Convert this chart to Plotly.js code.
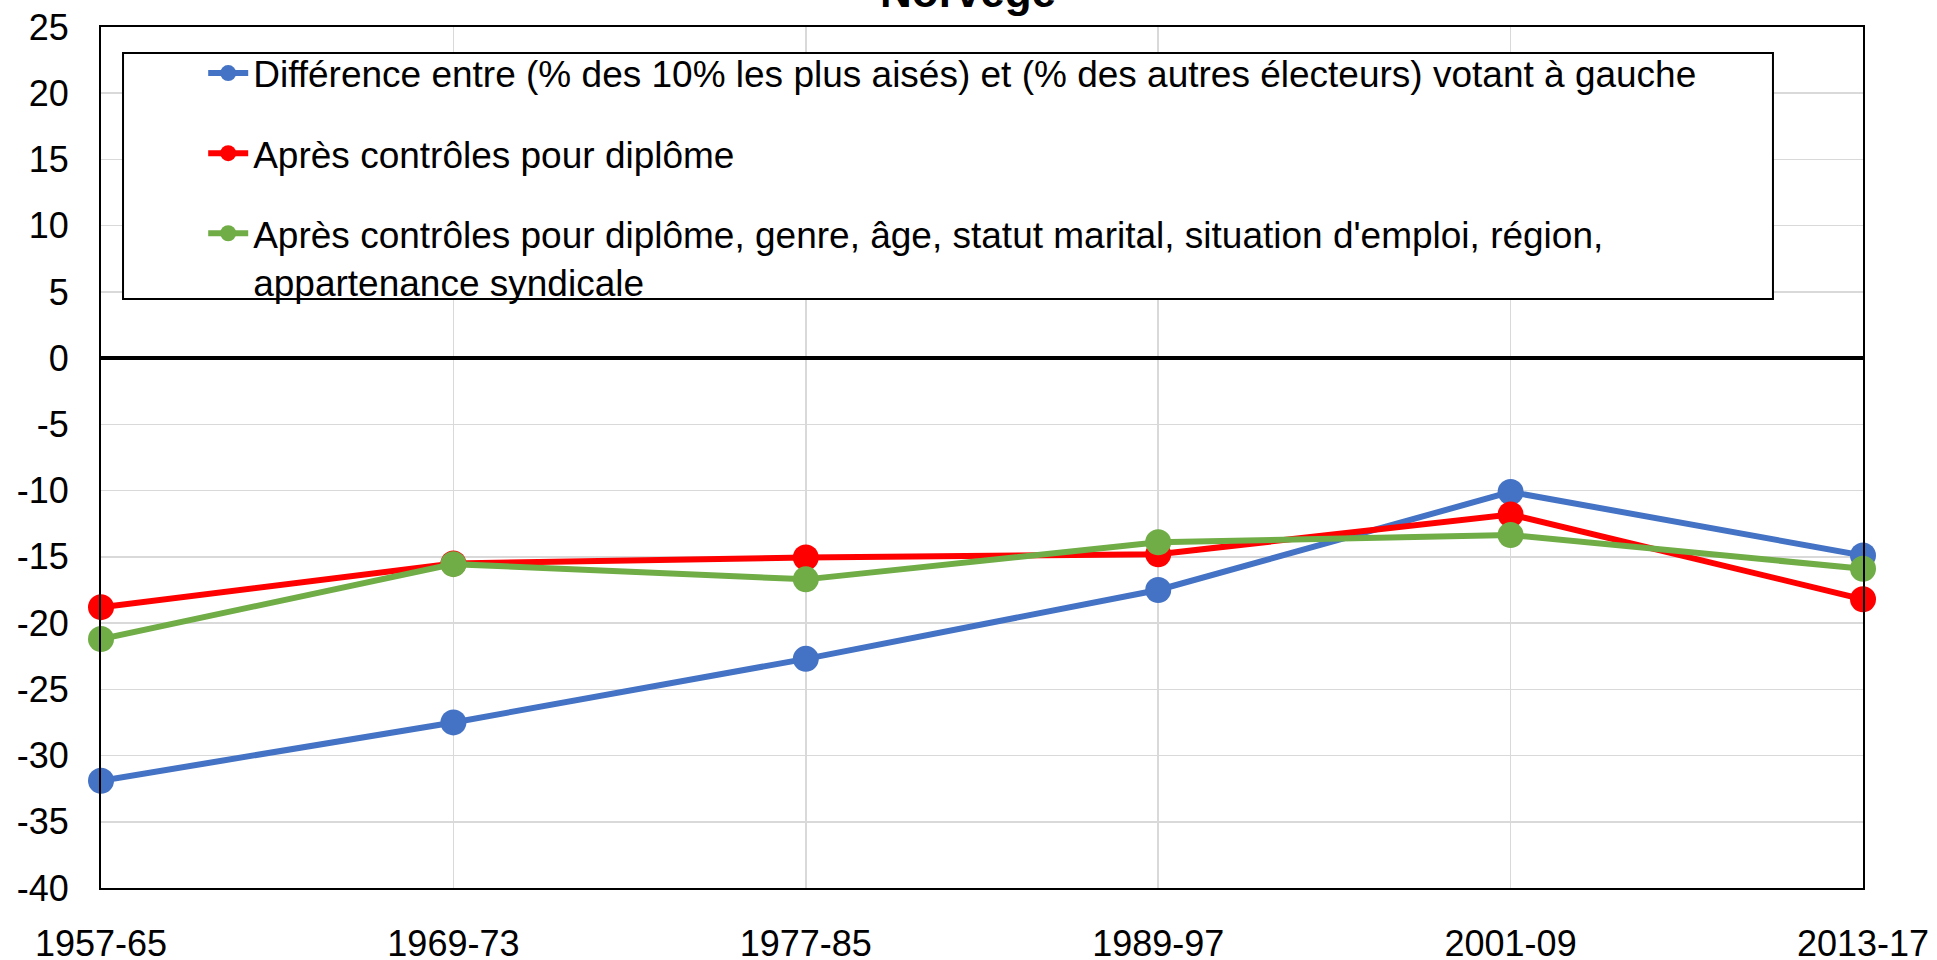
<!DOCTYPE html>
<html>
<head>
<meta charset="utf-8">
<script src="https://cdn.plot.ly/plotly-3.0.1.min.js"></script>
<style>html,body{margin:0;padding:0;background:#fff;}#chart{width:1937px;height:960px;}</style>
</head>
<body>
<div id="chart"></div>
<script>
const categories = ['1957-65', '1969-73', '1977-85', '1989-97', '2001-09', '2013-17'];
const diffTop10 = [-31.9, -27.5, -22.7, -17.5, -10.1, -14.9];
const ctrlDiplome = [-18.8, -15.5, -15.05, -14.8, -11.8, -18.2];
const ctrlAll = [-21.2, -15.55, -16.7, -13.9, -13.35, -15.9];
const seriesNames = [
  'Différence entre (% des 10% les plus aisés) et (% des autres électeurs) votant à gauche',
  'Après contrôles pour diplôme',
  "Après contrôles pour diplôme, genre, âge, statut marital, situation d'emploi, région,<br>appartenance syndicale"
];
const yTickVals = [25, 20, 15, 10, 5, 0, -5, -10, -15, -20, -25, -30, -35, -40];
const yTickText = ['25', '20', '15', '10', '5', '0', '-5', '-10', '-15', '-20', '-25', '-30', '-35', '-40'];
const chartTitle = 'Norvège';

const FONT = 'Arial, "Liberation Sans", sans-serif';
const colors = ['#4472C4', '#FF0000', '#70AD47'];
const seriesData = [diffTop10, ctrlDiplome, ctrlAll];

const traces = seriesData.map((vals, i) => ({
  type: 'scatter',
  mode: 'lines+markers',
  x: categories,
  y: vals,
  name: seriesNames[i],
  legendgroup: 'g' + i,
  line: {color: colors[i], width: 6},
  marker: {color: colors[i], size: 26},
  cliponaxis: false
}));

const layout = {
  width: 1937,
  height: 960,
  margin: {l: 101, r: 74, t: 27, b: 72},
  paper_bgcolor: '#ffffff',
  plot_bgcolor: '#ffffff',
  font: {family: FONT, size: 36, color: '#000000'},
  showlegend: true,
  legend: {
    x: 0.058, y: 0.982, xanchor: 'left', yanchor: 'top',
    bgcolor: 'rgba(0,0,0,0)', borderwidth: 0,
    font: {family: FONT, size: 37, color: '#000000'},
    tracegroupgap: 29,
    itemwidth: 40,
    valign: 'top',
    traceorder: 'grouped'
  },
  xaxis: {
    type: 'category',
    range: [0, 5],
    showgrid: true, gridcolor: '#d9d9d9', gridwidth: 1.5,
    showline: true, linecolor: '#000000', linewidth: 2, mirror: true,
    ticks: '', ticklabelstandoff: 23,
    tickfont: {family: FONT, size: 36, color: '#000000'},
    zeroline: false, fixedrange: true
  },
  yaxis: {
    range: [-40, 25],
    tickvals: yTickVals, ticktext: yTickText,
    showgrid: true, gridcolor: '#d9d9d9', gridwidth: 1.5,
    showline: true, linecolor: '#000000', linewidth: 2, mirror: true,
    zeroline: true, zerolinecolor: '#000000', zerolinewidth: 4,
    ticks: '', ticklabelstandoff: 23,
    tickfont: {family: FONT, size: 36, color: '#000000'},
    fixedrange: true
  },
  shapes: [{
    type: 'rect', xref: 'paper', yref: 'paper',
    x0: 0.0125, x1: 0.9489, y0: 0.6841, y1: 0.9698,
    line: {color: '#000000', width: 2}, fillcolor: '#ffffff', layer: 'above'
  }],
  annotations: [{
    text: '<b>' + chartTitle + '</b>', xref: 'paper', yref: 'paper',
    x: 0.492, y: 1, xanchor: 'center', yanchor: 'middle', yshift: 36,
    showarrow: false, font: {family: FONT, size: 44, color: '#000000'}
  }]
};

Plotly.newPlot('chart', traces, layout, {staticPlot: true, displayModeBar: false});
</script>
</body>
</html>
